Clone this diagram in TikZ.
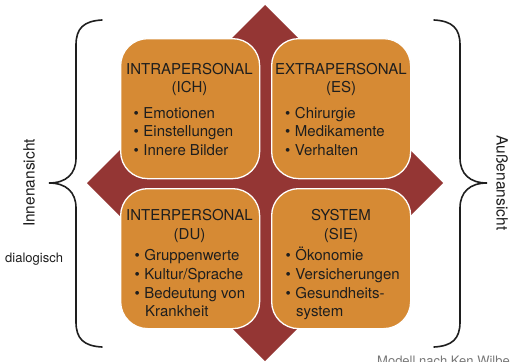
\documentclass[tikz,border=0pt]{standalone}
\usepackage{fontspec}
\setmainfont{TeX Gyre Heros}
\definecolor{boxor}{RGB}{214,138,52}
\definecolor{diared}{RGB}{148,54,52}
\definecolor{txt}{RGB}{30,30,30}
\definecolor{capgray}{RGB}{120,120,120}
\begin{document}
\begin{tikzpicture}[x=1pt,y=-1pt,
  quad/.style={draw=white,line width=1.3pt,fill=boxor,rounded corners=27pt,minimum width=139pt,minimum height=140pt,anchor=north west,inner sep=0pt},
  ttl/.style={anchor=base,font=\fontsize{15}{18}\selectfont,text=txt,inner sep=0pt},
  itm/.style={anchor=base west,font=\fontsize{15}{18}\selectfont,text=txt,inner sep=0pt},
  brace/.style={line width=1.6pt,draw=txt,line cap=round},
  side/.style={font=\fontsize{15.5}{18}\selectfont,text=txt,inner sep=0pt}]
\useasboundingbox (0,0) rectangle (510,361);
% diamond
\coordinate (dt) at (265,5);
\coordinate (dr) at (443,183);
\coordinate (db) at (265,361);
\coordinate (dl) at (87,183);
\fill[diared] (dt) -- (dr) -- (db) -- (dl) -- cycle;
% boxes
\node[quad] (b1) at (120,38) {};
\node[quad] (b2) at (271,38) {};
\node[quad] (b3) at (120,188) {};
\node[quad] (b4) at (271,188) {};
% top-left
\node[ttl] (t1a) at (189.5,74) {INTRAPERSONAL};
\node[ttl] (t1b) at (189.5,92) {(ICH)};
\node[itm] (i11) at (133.5,118) {\textbullet\hspace{4.5pt}Emotionen};
\node[itm] (i12) at (133.5,136.5) {\textbullet\hspace{4.5pt}Einstellungen};
\node[itm] (i13) at (133.5,155) {\textbullet\hspace{4.5pt}Innere Bilder};
% top-right
\node[ttl] (t2a) at (341,74) {EXTRAPERSONAL};
\node[ttl] (t2b) at (341,92) {(ES)};
\node[itm] (i21) at (285,118) {\textbullet\hspace{4.5pt}Chirurgie};
\node[itm] (i22) at (285,136.5) {\textbullet\hspace{4.5pt}Medikamente};
\node[itm] (i23) at (285,155) {\textbullet\hspace{4.5pt}Verhalten};
% bottom-left
\node[ttl] (t3a) at (189.5,220) {INTERPERSONAL};
\node[ttl] (t3b) at (189.5,239) {(DU)};
\node[itm] (i31) at (134.5,260) {\textbullet\hspace{4.5pt}Gruppenwerte};
\node[itm] (i32) at (134.5,279) {\textbullet\hspace{4.5pt}Kultur/Sprache};
\node[itm] (i33) at (134.5,298) {\textbullet\hspace{4.5pt}Bedeutung von};
\node[itm] (i34) at (145,316.5) {Krankheit};
% bottom-right
\node[ttl] (t4a) at (341,220) {SYSTEM};
\node[ttl] (t4b) at (341,239) {(SIE)};
\node[itm] (i41) at (285.5,260) {\textbullet\hspace{4.5pt}Ökonomie};
\node[itm] (i42) at (285.5,279) {\textbullet\hspace{4.5pt}Versicherungen};
\node[itm] (i43) at (285.5,298) {\textbullet\hspace{4.5pt}Gesundheits-};
\node[itm] (i44) at (296,316.5) {system};
% left brace
\coordinate (lb1) at (102,20);
\coordinate (lbt) at (49,183);
\coordinate (lb2) at (102,347);
\draw[brace] (lb1) .. controls (84,21) and (76,28) .. (76,45) -- (76,158)
  .. controls (76,174) and (66,183) .. (lbt)
  .. controls (66,183) and (76,192) .. (76,208) -- (76,322)
  .. controls (76,339) and (84,346) .. (lb2);
% right brace
\coordinate (rb1) at (434,20);
\coordinate (rbt) at (487,183);
\coordinate (rb2) at (434,347);
\draw[brace] (rb1) .. controls (452,21) and (460,28) .. (460,45) -- (460,158)
  .. controls (460,174) and (470,183) .. (rbt)
  .. controls (470,183) and (460,192) .. (460,208) -- (460,322)
  .. controls (460,339) and (452,346) .. (rb2);
% side labels
\node[side,rotate=90] (inn) at (29,183) {Innenansicht};
\node[side,rotate=-90] (aus) at (502,183) {Außenansicht};
\node[anchor=base west,inner sep=0pt,font=\fontsize{13}{15}\selectfont,text=txt] (dia) at (5,262.5) {dialogisch};
\node[anchor=base west,inner sep=0pt,font=\fontsize{13}{15}\selectfont,text=capgray] (cap) at (377,365.5) {Modell nach Ken Wilber};
\end{tikzpicture}
\end{document}
